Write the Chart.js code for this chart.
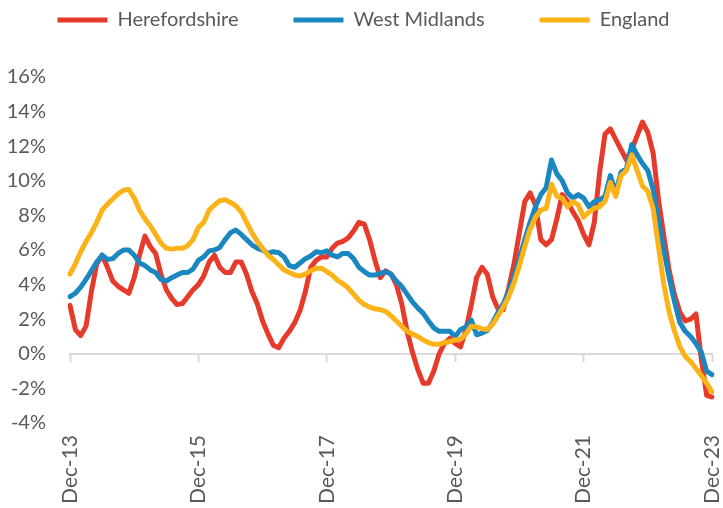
<!DOCTYPE html>
<html>
<head>
<meta charset="utf-8">
<script src="https://cdn.jsdelivr.net/npm/chart.js@4.4.1/dist/chart.umd.min.js"></script>
<style>
html,body{margin:0;padding:0;background:#ffffff;}
#wrap{width:723px;height:508px;position:relative;}
</style>
</head>
<body>
<div id="wrap"><canvas id="c" width="723" height="508"></canvas></div>
<script>
// Month labels Dec-13 .. Dec-23
const monthNames = ['Jan','Feb','Mar','Apr','May','Jun','Jul','Aug','Sep','Oct','Nov','Dec'];
const categories = [];
for (let i = 0; i <= 120; i++) {
  const k = 11 + i;
  categories.push(monthNames[k % 12] + '-' + String(13 + Math.floor(k / 12)));
}
const tickEvery = 24;

const seriesNames = ['Herefordshire', 'West Midlands', 'England'];

const herefordshire = [
  2.8, 1.4, 1.05, 1.6, 3.6, 5.2, 5.7, 5.0, 4.2, 3.9, 3.7, 3.5,
  4.4, 5.7, 6.8, 6.2, 5.8, 4.6, 3.7, 3.2, 2.85, 2.9, 3.3, 3.7,
  4.0, 4.5, 5.3, 5.7, 5.0, 4.7, 4.7, 5.3, 5.3, 4.6, 3.6, 2.9,
  1.9, 1.15, 0.5, 0.35, 0.9, 1.3, 1.8, 2.5, 3.6, 5.0, 5.4, 5.6,
  5.6, 6.1, 6.4, 6.5, 6.7, 7.1, 7.6, 7.5, 6.6, 5.4, 4.4, 4.8,
  4.6, 4.0, 2.9, 1.3, 0.1, -0.9, -1.7, -1.7, -1.0, 0.0, 0.6, 0.9,
  0.6, 0.4, 1.4, 2.8, 4.4, 5.0, 4.6, 3.3, 2.6, 2.55, 3.8, 5.2,
  7.0, 8.8, 9.3, 8.6, 6.6, 6.3, 6.6, 7.8, 9.2, 8.8, 8.2, 7.7,
  6.9, 6.3, 7.6, 10.5, 12.7, 13.0, 12.4, 11.8, 11.2, 11.8, 12.6, 13.4,
  12.8, 11.6, 8.9, 6.8, 4.8, 3.4, 2.4, 1.9, 2.0, 2.3, -0.3, -2.4,
  -2.5
];

const westMidlands = [
  3.3, 3.5, 3.85, 4.3, 4.8, 5.3, 5.7, 5.45, 5.5, 5.8, 6.0, 6.0,
  5.7, 5.25, 5.1, 4.85, 4.7, 4.3, 4.2, 4.4, 4.55, 4.7, 4.7, 4.9,
  5.4, 5.6, 5.95, 6.0, 6.15, 6.6, 7.0, 7.15, 6.9, 6.6, 6.3, 6.1,
  6.0, 5.8, 5.9, 5.85, 5.6, 5.1, 5.0, 5.25, 5.5, 5.65, 5.9, 5.85,
  5.95, 5.7, 5.6, 5.8, 5.8, 5.5, 5.0, 4.75, 4.55, 4.55, 4.65, 4.75,
  4.6, 4.2, 3.9, 3.45, 3.0, 2.65, 2.35, 1.9, 1.5, 1.3, 1.3, 1.3,
  1.0, 1.4, 1.55, 1.95, 1.1, 1.2, 1.35, 1.8, 2.4, 2.9, 3.6, 4.5,
  5.5, 6.6, 7.6, 8.5, 9.2, 9.6, 11.2, 10.4, 10.0, 9.3, 9.0, 9.2,
  9.0, 8.5, 8.8, 8.9, 9.1, 10.3, 9.3, 10.5, 10.7, 12.1, 11.5, 11.0,
  10.6, 9.5, 7.7, 6.0, 4.4, 3.0, 1.8, 1.3, 1.0, 0.6, 0.1, -1.0,
  -1.2
];

const england = [
  4.6, 5.2, 5.9, 6.5, 7.0, 7.6, 8.3, 8.65, 8.95, 9.25, 9.45, 9.5,
  9.0, 8.3, 7.8, 7.4, 6.9, 6.4, 6.1, 6.05, 6.1, 6.1, 6.25, 6.6,
  7.3, 7.6, 8.3, 8.6, 8.85, 8.9, 8.75, 8.55, 8.2, 7.6, 7.0, 6.5,
  6.1, 5.7, 5.45, 5.15, 4.85, 4.7, 4.55, 4.5, 4.6, 4.8, 4.95, 4.95,
  4.75, 4.55, 4.25, 4.05, 3.8, 3.45, 3.1, 2.85, 2.7, 2.6, 2.55, 2.45,
  2.2, 1.9, 1.6, 1.3, 1.15, 1.0, 0.8, 0.65, 0.55, 0.55, 0.65, 0.7,
  0.8, 0.85, 1.15, 1.6, 1.55, 1.45, 1.4, 1.7, 2.2, 2.7, 3.3, 4.1,
  5.1, 6.2, 7.2, 7.9, 8.3, 8.4, 9.8, 9.1, 9.0, 8.5, 8.8, 8.6,
  7.9, 8.2, 8.4, 8.5, 8.8, 9.9, 9.1, 10.3, 10.6, 11.5, 10.6, 9.7,
  9.4, 8.4, 6.2, 4.0, 2.4, 1.3, 0.4, -0.15, -0.45, -0.85, -1.25, -1.7,
  -2.2
];

const yMin = -4, yMax = 16, yStep = 2;

const colors = ['#e63a2b', '#1b87c1', '#fbb317'];
const textColor = '#595959';
const fontFamily = 'Lato, "Open Sans", sans-serif';

const legendShift = {
  id: 'legendShift',
  afterLayout(chart) {
    const lg = chart.legend;
    if (lg) {
      lg.top = -45;
      lg.bottom = lg.top + lg.height;
      lg.left += 2;
      lg.right += 2;
    }
  }
};

function makeDataset(label, data, color, order) {
  return {
    label: label,
    data: data,
    borderColor: color,
    backgroundColor: color,
    borderWidth: 5,
    pointRadius: 0,
    pointHoverRadius: 0,
    pointStyle: 'line',
    borderCapStyle: 'round',
    borderJoinStyle: 'round',
    tension: 0,
    fill: false,
    order: order
  };
}

function fixXPadding(s) {
  s.paddingLeft = 0;
  s.paddingRight = 11;
}

new Chart(document.getElementById('c'), {
  type: 'line',
  data: {
    labels: categories,
    datasets: [
      makeDataset(seriesNames[0], herefordshire, colors[0], 3),
      makeDataset(seriesNames[1], westMidlands, colors[1], 2),
      makeDataset(seriesNames[2], england, colors[2], 1)
    ]
  },
  options: {
    responsive: false,
    animation: false,
    devicePixelRatio: 1,
    layout: { padding: { top: -8, left: 0, right: 0, bottom: 0 } },
    plugins: {
      tooltip: { enabled: false },
      legend: {
        position: 'top',
        labels: {
          usePointStyle: true,
          pointStyleWidth: 50,
          boxHeight: 20,
          padding: 55,
          color: textColor,
          font: { family: fontFamily, size: 20 },
          sort: (a, b) => a.datasetIndex - b.datasetIndex
        }
      }
    },
    scales: {
      x: {
        type: 'category',
        position: 'bottom',
        grid: { display: false, drawTicks: false },
        border: { display: false },
        ticks: {
          autoSkip: false,
          maxRotation: 90,
          minRotation: 90,
          padding: 12,
          color: textColor,
          font: { family: fontFamily, size: 21 },
          callback: (v, i) => (i % tickEvery === 0 ? categories[i] : '')
        },
        afterFit: (s) => { s.height = 85; fixXPadding(s); }
      },
      x2: {
        type: 'category',
        axis: 'x',
        position: { y: 0 },
        grid: {
          drawOnChartArea: false,
          drawTicks: true,
          tickLength: 7,
          tickWidth: 2,
          tickColor: (c) => (c.index % tickEvery === 0 ? '#d9d9d9' : 'rgba(0,0,0,0)')
        },
        border: { display: true, color: '#d9d9d9', width: 2 },
        ticks: { display: false, autoSkip: false },
        afterFit: (s) => { fixXPadding(s); }
      },
      y: {
        min: yMin,
        max: yMax,
        grid: { display: false, drawTicks: false },
        border: { display: false },
        ticks: {
          stepSize: yStep,
          autoSkip: false,
          padding: 24,
          color: textColor,
          font: { family: fontFamily, size: 20 },
          callback: (v) => v + '%'
        },
        afterFit: (s) => { s.width = 70; }
      }
    }
  },
  plugins: [legendShift]
});
</script>
</body>
</html>
